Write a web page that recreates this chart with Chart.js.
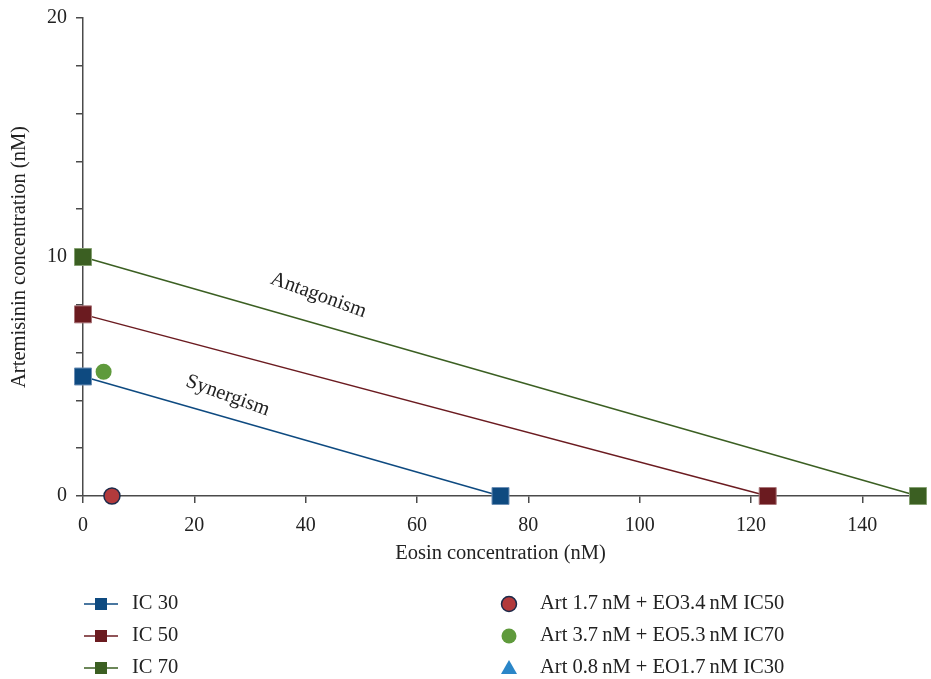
<!DOCTYPE html>
<html>
<head>
<meta charset="utf-8">
<script src="https://cdn.jsdelivr.net/npm/chart.js@4/dist/chart.umd.min.js"></script>
<style>
  html, body { margin: 0; padding: 0; background: #fff; }
  #wrap { width: 931px; height: 679px; }
</style>
</head>
<body>
<div id="wrap"><canvas id="chart-isobol" width="931" height="679"></canvas></div>
<script>
// isobologram values
var eosinTicks = [0, 20, 40, 60, 80, 100, 120, 140];
var artLabels = [0, 10, 20];

var ic30Eosin = [0, 75];
var ic30Art = [5, 0];
var ic50Eosin = [0, 123];
var ic50Art = [7.6, 0];
var ic70Eosin = [0, 150];
var ic70Art = [10, 0];

var comboIC50Eosin = [5.2];
var comboIC50Art = [0];
var comboIC70Eosin = [3.7];
var comboIC70Art = [5.2];
var comboIC30Eosin = [];
var comboIC30Art = [];

var notes = [
    {text: 'Antagonism', x: 42.3, y: 8.4},
    {text: 'Synergism', x: 26, y: 4.2},
];

var serif = '"Liberation Serif", "DejaVu Serif", serif';

function pairs(xs, ys) {
    var out = [];
    for (var i = 0; i < xs.length; i++) {
        out.push({x: xs[i], y: ys[i]});
    }
    return out;
}

function lineSet(label, xs, ys, color, edge) {
    return {
        label: label,
        data: pairs(xs, ys),
        showLine: true,
        borderColor: color,
        backgroundColor: color,
        borderWidth: 1.5,
        pointStyle: 'rect',
        pointRadius: 12,
        pointBorderColor: edge,
        pointBorderWidth: 1,
        clip: false,
    };
}

function dotSet(label, xs, ys, fill, edge, style) {
    return {
        label: label,
        data: pairs(xs, ys),
        showLine: false,
        backgroundColor: fill,
        borderColor: edge,
        pointStyle: style,
        pointRadius: 8,
        pointBorderWidth: edge == fill ? 0 : 1.5,
        clip: false,
    };
}

// text on the plot (Antagonism / Synergism)
var notePlugin = {
    id: 'notes',
    afterDatasetsDraw: function(chart) {
        var ctx = chart.ctx;
        var xs = chart.scales.x, ys = chart.scales.y;
        ctx.save();
        ctx.font = '20.5px ' + serif;
        ctx.fillStyle = '#222';
        ctx.textAlign = 'center';
        ctx.textBaseline = 'middle';
        notes.forEach(function(n) {
            ctx.save();
            ctx.translate(xs.getPixelForValue(n.x), ys.getPixelForValue(n.y));
            ctx.rotate(20 * Math.PI / 180);
            ctx.fillText(n.text, 0, 0);
            ctx.restore();
        });
        ctx.restore();
    }
};

// two column legend under the axis
var legendPlugin = {
    id: 'twoColLegend',
    afterDraw: function(chart) {
        var ctx = chart.ctx;
        var sets = chart.data.datasets;
        var rows = [604, 636, 668];
        ctx.save();
        ctx.font = '20.5px ' + serif;
        ctx.textBaseline = 'middle';
        ctx.textAlign = 'left';
        for (var i = 0; i < sets.length; i++) {
            var ds = sets[i];
            var y = rows[i % 3];
            if (i < 3) {
                ctx.strokeStyle = ds.borderColor;
                ctx.lineWidth = 1.5;
                ctx.beginPath();
                ctx.moveTo(84, y);
                ctx.lineTo(118, y);
                ctx.stroke();
                ctx.fillStyle = ds.backgroundColor;
                ctx.fillRect(95, y - 6, 12, 12);
                ctx.fillStyle = '#222';
                ctx.fillText(ds.label, 132, y);
            } else {
                ctx.fillStyle = ds.backgroundColor;
                ctx.strokeStyle = ds.borderColor;
                ctx.lineWidth = ds.pointBorderWidth;
                ctx.beginPath();
                if (ds.pointStyle == 'triangle') {
                    ctx.moveTo(509, y - 8);
                    ctx.lineTo(517, y + 6);
                    ctx.lineTo(501, y + 6);
                    ctx.closePath();
                } else {
                    ctx.arc(509, y, 7.5, 0, Math.PI * 2);
                }
                ctx.fill();
                if (ds.pointBorderWidth) ctx.stroke();
                ctx.fillStyle = '#222';
                ctx.fillText(ds.label, 540, y);
            }
        }
        ctx.restore();
    }
};

var ctx = document.getElementById('chart-isobol').getContext('2d');
var chart = new Chart(ctx, {
    type: 'scatter',
    data: {
        datasets: [
            lineSet('IC 30', ic30Eosin, ic30Art, '#0e4a80', '#6d8fb5'),
            lineSet('IC 50', ic50Eosin, ic50Art, '#6b1b20', '#a97579'),
            lineSet('IC 70', ic70Eosin, ic70Art, '#3b5f22', '#84a071'),
            dotSet('Art 1.7\u2009nM + EO3.4\u2009nM IC50', comboIC50Eosin, comboIC50Art, '#b23a3c', '#1b2a4a', 'circle'),
            dotSet('Art 3.7\u2009nM + EO5.3\u2009nM IC70', comboIC70Eosin, comboIC70Art, '#5f9a3c', '#5f9a3c', 'circle'),
            dotSet('Art 0.8\u2009nM + EO1.7\u2009nM IC30', comboIC30Eosin, comboIC30Art, '#2a86c8', '#2a86c8', 'triangle'),
        ],
    },
    plugins: [notePlugin, legendPlugin],
    options: {
        responsive: false,
        animation: false,
        devicePixelRatio: 1,
        layout: {
            padding: {top: 18, right: 12, left: 0, bottom: 113}
        },
        plugins: {
            legend: {display: false},
            tooltip: {enabled: false},
        },
        scales: {
            x: {
                type: 'linear',
                min: 0,
                max: 150,
                afterBuildTicks: function(scale) {
                    scale.ticks = eosinTicks.map(function(v) { return {value: v}; });
                },
                afterFit: function(scale) {
                    scale.height = 70;
                    scale.paddingLeft = 0;
                    scale.paddingRight = 0;
                },
                border: {color: '#4a4a4a', width: 1.5},
                grid: {drawOnChartArea: false, color: '#4a4a4a', lineWidth: 1.5, tickLength: 7},
                ticks: {color: '#222', font: {family: serif, size: 20}, padding: 11, maxRotation: 0},
                title: {
                    display: true,
                    text: 'Eosin concentration (nM)',
                    color: '#222',
                    font: {family: serif, size: 20.5},
                    padding: {top: 4, bottom: 0},
                },
            },
            y: {
                type: 'linear',
                min: 0,
                max: 20,
                ticks: {
                    stepSize: 2,
                    color: '#222',
                    font: {family: serif, size: 20},
                    padding: 9,
                    callback: function(v) { return artLabels.indexOf(v) >= 0 ? String(v) : ''; },
                },
                afterFit: function(scale) {
                    scale.width = 83;
                    scale.paddingTop = 0;
                    scale.paddingBottom = 0;
                },
                border: {color: '#4a4a4a', width: 1.5},
                grid: {drawOnChartArea: false, color: '#4a4a4a', lineWidth: 1.5, tickLength: 7},
                title: {
                    display: true,
                    text: 'Artemisinin concentration (nM)',
                    color: '#222',
                    font: {family: serif, size: 20.5},
                    padding: {top: 7, bottom: 0},
                },
            },
        },
    },
});
</script>
</body>
</html>
